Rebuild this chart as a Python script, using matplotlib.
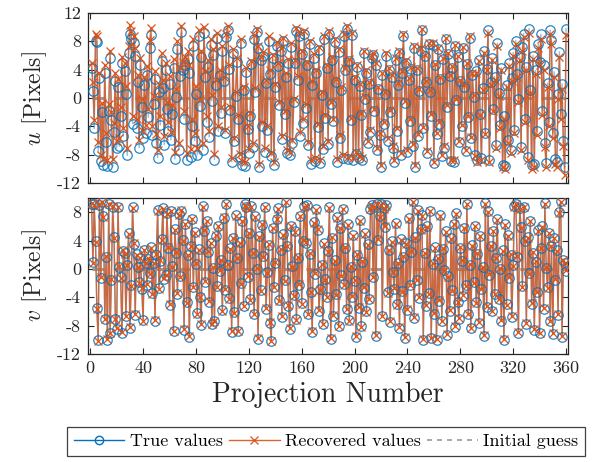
import numpy as np
import matplotlib
matplotlib.use("Agg")
import matplotlib.pyplot as plt
from matplotlib.lines import Line2D

plt.rcParams['font.family'] = ['cmr10', 'DejaVu Serif']
plt.rcParams['mathtext.fontset'] = 'cm'
plt.rcParams['axes.unicode_minus'] = False

projection = np.arange(1, 361)

u_true = [
    4.2, 1.0, -4.3, 8.1, 7.9, -7.5, 2.8, -8.9, -2.0, -9.4,
    3.5, -6.2, -9.6, -1.8, 5.6, -3.1, -9.7, -4.8, 2.4, -7.1,
    1.6, -6.8, -2.5, 4.9, -5.4, 3.8, 0.5, -8.1, 6.3, 9.1,
    8.3, -3.6, 7.7, 5.9, -4.2, 2.2, -7.0, 4.6, -1.3, -5.7,
    1.9, -4.9, 3.3, -2.7, 7.1, 8.9, -5.2, -0.8, 2.7, -6.3,
    -8.4, 0.9, -3.8, 5.2, 1.4, -6.6, 3.9, -1.6, -4.6, 2.0,
    -5.9, -2.2, 4.3, -8.6, 0.2, 6.9, -7.4, 3.1, 9.3, 4.0,
    -2.9, 4.7, -8.8, 5.5, 3.6, -8.3, -4.0, 7.3, -6.0, 0.6,
    -8.0, 8.7, -1.1, 5.8, -7.3, 9.2, 2.9, -3.4, 4.4, -5.5,
    7.5, -0.4, 6.1, -8.7, 1.8, 8.5, -4.7, 3.2, -2.1, 6.7,
    2.4, -5.0, 8.6, 9.6, 4.1, -1.7, -9.0, 6.4, -6.1, 0.3,
    5.1, -3.0, -8.3, 7.8, -9.4, 1.2, -9.6, 3.7, -4.4, -7.7,
    -2.6, 4.8, -6.9, 8.4, 0.8, 9.3, 7.0, -9.8, 5.3, -3.9,
    6.0, -7.6, 2.1, -4.5, 8.1, 3.4, -8.2, 5.6, -9.5, 1.5,
    7.4, 4.5, -1.0, 6.6, -5.8, 8.0, -2.3, 3.0, -7.8, 5.0,
    -8.1, 7.2, -6.4, -0.6, 4.9, 9.4, 2.6, 8.8, -5.3, 6.2,
    -3.5, 9.0, -1.4, 4.6, -6.7, 7.6, -9.3, 1.9, 5.7, -8.9,
    3.5, -4.1, 6.8, -9.2, 0.4, -7.2, 8.3, -2.8, 4.2, -6.5,
    9.1, -0.9, 5.4, -3.3, 7.9, 2.3, -9.0, 6.5, -5.6, 1.1,
    -8.4, 8.7, 3.9, 9.8, -8.6, 5.2, -3.1, 8.9, -8.8, 2.6,
    -7.9, 4.4, -8.5, 1.7, -2.4, -8.7, 6.3, -0.2, 3.6, -6.3,
    2.0, -4.8, 5.6, 6.1, -1.9, 4.7, -7.4, 1.3, -5.2, -9.8,
    3.2, -3.7, 0.5, 6.0, -6.0, 4.0, -2.0, 2.9, -7.1, -9.1,
    5.3, -4.6, 1.8, 6.4, -8.0, 3.5, 8.8, -0.7, 5.0, -7.6,
    2.5, -3.2, 4.1, -6.8, 7.1, -9.8, 3.9, -5.4, 1.0, 6.7,
    9.6, -4.3, 5.9, 2.2, -7.7, 7.6, 0.9, -2.5, 7.5, -9.2,
    4.6, -5.1, 6.9, -3.6, 2.7, -8.2, 5.5, -7.0, 8.3, -1.2,
    6.2, 3.1, -8.9, 4.3, -9.0, 7.3, -0.3, 5.8, -6.2, 2.4,
    -4.0, 7.0, 1.6, -7.5, 4.8, -2.7, 8.5, -5.7, 3.3, 0.2,
    -8.0, 3.8, -8.8, 5.4, -2.2, -8.5, 1.4, 6.6, -4.9, 4.1,
    9.6, -8.7, 2.3, 5.7, -1.5, 3.0, -6.6, 7.7, 0.7, -3.8,
    4.3, -9.4, -2.6, -9.6, 1.9, -5.9, 4.9, -7.3, 2.8, 6.4,
    -4.5, 8.1, 3.4, -0.1, 5.8, -6.9, 7.2, 9.1, -2.9, 4.4,
    -8.3, 9.8, 1.2, -9.5, 6.0, -9.3, 3.9, -4.7, 7.6, 5.1,
    9.0, -1.8, 4.6, -6.3, -9.2, 2.1, -3.4, 9.6, 8.2, -5.0,
    3.7, -8.6, -9.1, 0.5, 6.5, -2.3, 2.0, -6.1, -9.8, 9.8,
]

u_recovered = [
    5.0, 2.2, -3.1, 9.0, 8.8, -6.2, 3.6, -8.0, -0.7, -8.6,
    4.6, -5.0, -8.8, -0.9, 6.7, -2.0, -8.6, -3.5, 3.6, -6.0,
    2.7, -5.6, -1.2, 5.8, -4.3, 5.0, 1.7, -7.0, 7.4, 10.3,
    9.4, -2.5, 8.8, 7.0, -3.0, 3.3, -5.9, 5.7, -0.2, -4.6,
    2.9, -3.8, 4.5, -1.6, 8.2, 9.9, -4.0, 0.3, 3.8, -5.1,
    -7.3, 2.0, -2.6, 6.3, 2.5, -5.4, 5.0, -0.5, -3.4, 3.1,
    -4.8, -1.0, 5.5, -7.6, 1.3, 8.0, -6.3, 4.2, 10.2, 5.1,
    -1.8, 5.8, -7.7, 6.6, 4.7, -7.2, -2.9, 8.4, -4.9, 1.7,
    -7.1, 9.6, -0.2, 6.7, -6.4, 10.0, 3.8, -2.5, 5.3, -4.6,
    8.3, 0.4, 6.9, -7.9, 2.6, 9.2, -3.9, 4.0, -1.3, 7.4,
    2.9, -4.5, 9.1, 10.1, 4.6, -1.2, -8.5, 6.9, -5.6, 0.8,
    5.6, -2.4, -7.9, 8.4, -8.9, 1.6, -9.1, 4.3, -3.9, -7.2,
    -2.1, 5.2, -6.3, 8.9, 1.4, 9.8, 7.4, -9.3, 5.8, -3.4,
    6.5, -7.1, 2.5, -4.0, 8.7, 3.9, -7.7, 6.1, -9.0, 2.0,
    7.9, 5.0, -0.5, 7.0, -5.3, 8.5, -1.8, 3.5, -7.3, 5.5,
    -7.6, 7.7, -5.9, -0.1, 5.3, 9.9, 3.1, 9.3, -4.8, 6.7,
    -3.0, 9.4, -0.9, 5.1, -6.2, 8.1, -8.8, 2.4, 6.2, -8.4,
    3.9, -3.7, 7.2, -8.8, 0.8, -6.8, 8.7, -2.4, 4.6, -6.1,
    9.5, -0.5, 5.8, -2.9, 8.3, 2.7, -8.6, 6.9, -5.2, 1.5,
    -8.1, 9.0, 4.2, 10.1, -8.3, 5.5, -2.8, 9.2, -8.5, 2.9,
    -7.6, 4.7, -8.2, 2.0, -2.1, -8.4, 6.6, 0.1, 3.9, -6.0,
    2.3, -4.5, 5.9, 6.4, -1.6, 5.0, -7.1, 1.6, -4.9, -9.5,
    3.5, -3.4, 0.8, 6.3, -5.7, 4.3, -1.7, 3.2, -6.8, -8.8,
    5.6, -4.3, 2.1, 6.7, -7.7, 3.8, 9.1, -0.4, 5.3, -7.3,
    2.8, -2.9, 4.4, -6.5, 7.4, -9.5, 4.2, -5.1, 1.3, 7.0,
    9.8, -4.1, 6.1, 2.4, -7.5, 7.8, 1.1, -2.3, 7.7, -9.0,
    4.8, -4.9, 7.1, -3.4, 2.9, -8.0, 5.7, -6.8, 8.5, -1.0,
    6.4, 3.3, -8.7, 4.5, -8.8, 7.5, -0.1, 6.0, -6.0, 2.6,
    -3.8, 7.2, 1.8, -7.3, 5.0, -2.5, 8.7, -5.5, 3.5, 0.4,
    -8.2, 3.6, -9.0, 5.2, -2.4, -8.7, 1.2, 6.4, -5.1, 3.9,
    9.2, -9.1, 1.9, 5.3, -1.9, 2.6, -7.0, 7.3, 0.3, -4.2,
    3.9, -9.8, -3.0, -10.0, 1.5, -6.3, 4.5, -7.7, 2.4, 6.0,
    -5.0, 7.6, 2.9, -0.6, 5.3, -7.4, 6.7, 8.6, -3.4, 3.9,
    -8.8, 9.2, 0.7, -10.0, 5.5, -9.8, 3.4, -5.2, 7.1, 4.6,
    8.4, -2.4, 4.0, -6.9, -9.8, 1.5, -4.0, 9.0, 7.6, -5.6,
    3.0, -9.3, -9.8, -0.2, 5.8, -3.0, 1.3, -6.8, -10.8, 8.9,
]

v_true = [
    9.2, 1.0, 9.1, 4.0, -5.5, -10.0, 9.0, -1.3, 9.5, 7.5,
    -7.0, 1.7, -10.0, 9.2, -9.0, -1.5, 8.8, 4.5, -7.0, -8.5,
    8.8, 0.3, -1.2, -9.0, 2.5, 2.2, -6.6, 0.5, 5.0, -8.3,
    -2.3, 8.7, 3.5, -6.5, 2.1, 0.2, -1.9, 1.6, -2.8, -7.2,
    2.6, 0.9, -2.2, 1.4, -0.6, 3.1, -3.4, 0.8, -7.3, 2.0,
    8.3, -2.7, 1.1, 4.2, 8.6, -1.4, -0.8, 7.9, 3.0, -5.1,
    8.1, 0.4, -8.8, 5.6, 2.3, -3.5, 7.7, -1.0, 8.2, 4.1,
    -8.6, 6.4, -4.7, 1.9, -9.6, 3.3, 7.0, -2.6, 5.2, 0.7,
    -6.2, 2.8, -3.9, -7.9, 8.9, 5.4, -1.8, 6.8, 2.4, -4.6,
    3.7, -7.7, 0.1, -7.4, 4.7, -2.4, 6.1, -0.3, 1.3, -5.8,
    7.2, -3.0, 9.2, 0.6, -4.1, 2.9, -8.9, 4.3, -6.1, 7.6,
    1.5, -8.8, 3.8, -2.0, 6.7, -5.3, 9.1, 8.7, -1.1, 5.1,
    -4.3, 8.9, 2.2, -6.4, 7.4, 0.0, -9.9, 4.6, -3.0, 6.2,
    1.8, 8.7, -5.6, -0.5, 3.4, -7.6, -10.2, 5.8, -2.5, 0.9,
    7.1, 8.6, -4.4, 2.7, -6.8, 4.9, -1.6, 9.5, 3.2, -5.2,
    -8.5, 6.0, 0.4, -3.7, 5.3, -7.1, 1.6, -2.2, 7.5, -4.8,
    4.0, 8.9, 3.7, 9.0, -6.3, 2.1, -3.3, -8.9, 6.6, -0.7,
    8.4, 5.5, -5.9, -2.9, 0.6, -7.8, 3.6, -1.4, -4.0, 2.5,
    8.7, -9.9, 4.4, -6.6, 1.2, -3.6, 7.3, -8.0, 5.7, -0.9,
    8.5, -2.1, 3.0, -5.7, 6.3, -7.2, 0.3, -3.9, 4.8, -1.7,
    -9.6, 2.0, -5.5, 6.9, -8.1, 1.0, -2.7, 5.0, -6.0, 3.5,
    -4.2, 8.5, 9.0, -1.2, 8.8, -9.4, 9.2, 4.1, 7.4, 9.1,
    -6.7, 8.6, 5.9, 9.0, -3.3, 2.6, -7.5, 3.9, -0.4, -2.8,
    6.5, -5.0, 0.8, -8.3, 4.2, -3.1, 1.7, -9.7, 3.6, -5.8,
    7.2, -2.2, 2.4, 9.6, -6.9, 4.5, -1.5, 8.3, -4.1, 5.6,
    7.6, -10.0, 2.2, -5.2, 6.0, -3.4, 8.2, -9.8, 0.7, -6.3,
    3.1, -10.0, 1.4, -4.5, 7.6, -7.4, 2.8, -0.2, 5.3, -9.3,
    -1.0, -5.9, 4.3, -3.0, 6.4, -8.2, 7.9, -4.6, -7.0, 3.0,
    1.1, -3.8, 5.8, -2.3, 9.2, -6.4, 0.6, -8.4, 3.4, -1.9,
    6.1, -4.7, 2.1, -7.6, 4.7, -2.8, 0.2, -9.4, 9.3, -5.4,
    8.1, -0.8, 3.2, -6.0, 5.4, -3.5, 1.5, 7.0, -4.2, 0.0,
    -7.3, 2.6, -10.0, 6.3, -5.0, 4.8, -1.3, 2.0, -6.8, 0.5,
    8.9, 9.2, 1.7, -9.0, 8.6, 5.9, -2.4, 8.8, 3.9, -7.7,
    4.5, -0.6, 6.8, -4.9, 2.3, -8.6, 1.0, -3.2, 5.5, -9.1,
    2.9, 6.0, -5.6, 9.3, 0.1, -2.6, 5.1, -7.4, 3.3, -9.2,
    4.4, -1.5, 2.6, -6.5, 8.0, 9.6, -9.6, 1.2, 0.9, -0.3,
]

v_recovered = [
    9.3, 0.8, 9.0, 3.8, -5.6, -10.1, 9.1, -1.2, 9.4, 7.3,
    -7.1, 1.8, -9.9, 9.1, -9.1, -1.4, 8.9, 4.3, -7.1, -8.4,
    8.7, 0.4, -1.3, -8.9, 2.6, 2.1, -6.7, 0.6, 4.9, -8.2,
    -2.4, 8.6, 3.6, -6.4, 2.0, 0.3, -2.0, 1.5, -2.7, -7.3,
    2.7, 0.8, -2.1, 1.5, -0.7, 3.0, -3.5, 0.9, -7.2, 2.1,
    8.2, -2.8, 1.2, 4.1, 8.5, -1.3, -0.9, 7.8, 3.1, -5.0,
    8.2, 0.3, -8.7, 5.5, 2.4, -3.4, 7.6, -1.1, 8.3, 4.0,
    -8.5, 6.3, -4.8, 2.0, -9.5, 3.2, 7.1, -2.5, 5.1, 0.8,
    -6.3, 2.7, -4.0, -7.8, 8.8, 5.5, -1.7, 6.7, 2.5, -4.5,
    3.6, -7.8, 0.2, -7.3, 4.8, -2.5, 6.0, -0.2, 1.2, -5.9,
    7.3, -2.9, 9.1, 0.7, -4.2, 2.8, -8.8, 4.4, -6.2, 7.5,
    1.6, -8.7, 3.7, -2.1, 6.8, -5.2, 9.0, 8.8, -1.0, 5.0,
    -4.4, 8.8, 2.3, -6.3, 7.3, 0.1, -9.8, 4.5, -3.1, 6.3,
    1.7, 8.8, -5.5, -0.6, 3.5, -7.5, -10.1, 5.7, -2.6, 1.0,
    7.0, 8.5, -4.5, 2.8, -6.7, 4.8, -1.7, 9.4, 3.3, -5.1,
    -8.4, 6.1, 0.3, -3.8, 5.2, -7.2, 1.7, -2.1, 7.4, -4.9,
    4.1, 8.8, 3.8, 8.9, -6.4, 2.2, -3.2, -8.8, 6.5, -0.6,
    8.3, 5.6, -5.8, -3.0, 0.7, -7.7, 3.5, -1.5, -3.9, 2.4,
    8.6, -9.8, 4.5, -6.5, 1.1, -3.7, 7.2, -8.1, 5.8, -1.0,
    8.4, -2.2, 3.1, -5.6, 6.2, -7.3, 0.4, -3.8, 4.7, -1.6,
    -9.5, 2.1, -5.4, 6.8, -8.2, 1.1, -2.6, 4.9, -6.1, 3.4,
    -4.3, 8.4, 8.9, -1.1, 8.7, -9.3, 9.1, 4.2, 7.3, 9.0,
    -6.6, 8.5, 6.0, 8.9, -3.4, 2.7, -7.4, 3.8, -0.5, -2.7,
    6.4, -5.1, 0.9, -8.2, 4.1, -3.2, 1.8, -9.6, 3.5, -5.7,
    7.1, -2.3, 2.5, 9.5, -6.8, 4.4, -1.6, 8.2, -4.0, 5.5,
    7.5, -9.9, 2.3, -5.1, 5.9, -3.5, 8.1, -9.7, 0.8, -6.2,
    3.0, -9.9, 1.5, -4.4, 7.5, -7.3, 2.9, -0.3, 5.2, -9.2,
    -1.1, -5.8, 4.2, -3.1, 6.3, -8.1, 7.8, -4.7, -6.9, 3.1,
    1.2, -3.7, 5.7, -2.4, 9.1, -6.3, 0.7, -8.3, 3.3, -2.0,
    6.0, -4.8, 2.2, -7.5, 4.6, -2.9, 0.3, -9.3, 9.2, -5.3,
    8.0, -0.7, 3.3, -5.9, 5.3, -3.6, 1.6, 6.9, -4.3, 0.1,
    -7.2, 2.5, -9.9, 6.2, -5.1, 4.7, -1.2, 2.1, -6.7, 0.4,
    8.8, 9.1, 1.8, -8.9, 8.5, 5.8, -2.5, 8.7, 4.0, -7.6,
    4.4, -0.7, 6.7, -4.8, 2.4, -8.5, 1.1, -3.3, 5.4, -9.0,
    3.0, 5.9, -5.5, 9.2, 0.2, -2.7, 5.0, -7.3, 3.2, -9.1,
    4.3, -1.4, 2.5, -6.4, 7.9, 9.5, -9.5, 1.3, 0.8, -0.2,
]

initial_guess_u = [0.0] * 360
initial_guess_v = [0.0] * 360

x_ticks = [0, 40, 80, 120, 160, 200, 240, 280, 320, 360]
u_ticks = [-12, -8, -4, 0, 4, 8, 12]
v_ticks = [-12, -8, -4, 0, 4, 8]

BLUE = '#0072BD'
ORANGE = '#D95319'
GRAY = '#999999'

fig = plt.figure(figsize=(5.98, 4.62), dpi=100)
ax1 = fig.add_axes([88/598, 1 - 183/462, (568-88)/598, (183-13)/462])
ax2 = fig.add_axes([88/598, 1 - 354/462, (568-88)/598, (354-198)/462])

def draw(ax, true_vals, rec_vals, guess):
    ax.plot(projection, true_vals, '-', color=BLUE, lw=1.0, alpha=0.45, zorder=2)
    ax.plot(projection, guess, '--', color=GRAY, lw=2.2, dashes=(4, 3), zorder=2.5)
    ax.plot(projection, rec_vals, '-', color=ORANGE, lw=1.0, alpha=0.8, zorder=3)
    ax.plot(projection, true_vals, 'o', color=BLUE, mfc='none', ms=6.8, mew=0.9, zorder=4, alpha=0.85)
    ax.plot(projection, rec_vals, 'x', color=ORANGE, ms=6.0, mew=0.9, zorder=5)

draw(ax1, u_true, u_recovered, initial_guess_u)
draw(ax2, v_true, v_recovered, initial_guess_v)

for ax in (ax1, ax2):
    ax.set_xlim(-1.7, 361.5)
    ax.set_xticks(x_ticks)
    ax.tick_params(direction='in', length=4, width=0.8, top=True, right=True,
                   labelsize=13, colors='#262626', pad=5)
    for s in ax.spines.values():
        s.set_linewidth(0.9)
        s.set_color('#262626')

ax1.set_ylim(-12, 12)
ax1.set_yticks(u_ticks)
ax1.set_yticklabels([str(t) for t in u_ticks])
ax1.set_xticklabels([])
ax2.set_ylim(-12, 10)
ax2.set_yticks(v_ticks)
ax2.set_yticklabels([str(t) for t in v_ticks])
ax2.set_xticklabels([str(t) for t in x_ticks])

ax1.set_ylabel(r'$u$ [Pixels]', fontsize=17, color='#262626', labelpad=6)
ax2.set_ylabel(r'$v$ [Pixels]', fontsize=17, color='#262626', labelpad=6)
ax2.set_xlabel('Projection Number', fontsize=20, color='#262626', labelpad=4)

handles = [
    Line2D([], [], color=BLUE, marker='o', mfc='none', ms=6, lw=1.0, mew=1.0),
    Line2D([], [], color=ORANGE, marker='x', ms=6, lw=1.0, mew=1.0, alpha=0.9),
    Line2D([], [], color=GRAY, ls='--', lw=1.2, dashes=(3, 3)),
]
leg = fig.legend(handles, ['True values', 'Recovered values', 'Initial guess'],
                 loc='center', bbox_to_anchor=(326/598, 1 - 441.5/462), ncol=3,
                 fontsize=13, frameon=True, fancybox=False, framealpha=1,
                 edgecolor='#404040', handlelength=2.8, handletextpad=0.3,
                 columnspacing=0.35, borderpad=0.35, borderaxespad=0)
leg.get_frame().set_linewidth(0.9)

fig.savefig('out.png', dpi=100)
